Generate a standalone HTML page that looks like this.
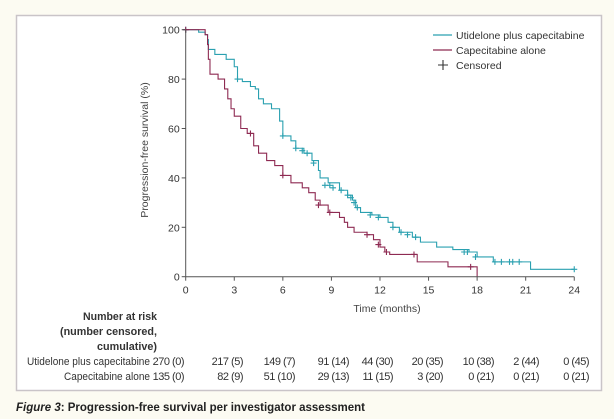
<!DOCTYPE html>
<html><head><meta charset="utf-8"><style>
html,body{margin:0;padding:0;background:#fcfbf2;width:614px;height:419px;overflow:hidden;font-family:"Liberation Sans",sans-serif;}
</style></head><body>
<svg width="614" height="419" xmlns="http://www.w3.org/2000/svg" style="position:absolute;left:0;top:0">
<rect x="16.5" y="15.5" width="585" height="375" fill="#fff" stroke="#c9c4c8" stroke-width="1.5"/>
<g id="plot" fill="none" stroke-width="1.1"></g>
<g stroke="#555" stroke-width="1" fill="none" id="axes"></g>
<g font-size="10.5" fill="#333" id="labels"></g>
<text transform="translate(148,150) rotate(-90)" font-size="10.5" fill="#444" text-anchor="middle">Progression-free survival (%)</text>
<text x="387" y="312" font-size="10.5" fill="#444" text-anchor="middle">Time (months)</text>
<line x1="433" y1="35" x2="452" y2="35" stroke="#2aa0b0" stroke-width="1.2"/>
<line x1="433" y1="50" x2="452" y2="50" stroke="#8e2a52" stroke-width="1.2"/>
<path d="M438 65h10M443 60v10" stroke="#333" stroke-width="1.1"/>
<g font-size="10.5" fill="#333">
<text x="456" y="39">Utidelone plus capecitabine</text>
<text x="456" y="54">Capecitabine alone</text>
<text x="456" y="69">Censored</text>
</g>
<g font-size="11" fill="#333">
<text x="83" y="320" font-weight="bold" textLength="74" lengthAdjust="spacingAndGlyphs">Number at risk</text>
<text x="60" y="335" font-weight="bold" textLength="97" lengthAdjust="spacingAndGlyphs">(number censored,</text>
<text x="97" y="350" font-weight="bold" textLength="60" lengthAdjust="spacingAndGlyphs">cumulative)</text>
<text x="27" y="365" textLength="123" lengthAdjust="spacingAndGlyphs">Utidelone plus capecitabine</text>
<text x="64" y="380" textLength="86" lengthAdjust="spacingAndGlyphs">Capecitabine alone</text>
</g>
<g font-size="11" fill="#333" id="risk" text-anchor="end" letter-spacing="-0.5"></g>
<text x="16" y="411" font-size="11.5" fill="#222" font-weight="bold"><tspan font-style="italic">Figure 3</tspan>: Progression-free survival per investigator assessment</text>
</svg>
<script>
var X=function(t){return 185.7+t*16.19},Y=function(p){return 276.7-p*2.47};
var ns="http://www.w3.org/2000/svg";
function el(tag,attrs,parent){var e=document.createElementNS(ns,tag);for(var k in attrs)e.setAttribute(k,attrs[k]);parent.appendChild(e);return e;}
var axes=document.getElementById('axes'),lab=document.getElementById('labels'),plot=document.getElementById('plot'),risk=document.getElementById('risk');
el('line',{x1:X(0),y1:Y(0),x2:X(24),y2:Y(0)},axes);
el('line',{x1:X(0),y1:Y(0),x2:X(0),y2:Y(100)},axes);
for(var t=0;t<=24;t+=3){el('line',{x1:X(t),y1:Y(0),x2:X(t),y2:Y(0)+4},axes);var tx=el('text',{x:X(t),y:Y(0)+17,'text-anchor':'middle'},lab);tx.textContent=t;}
for(var p=0;p<=100;p+=20){el('line',{x1:X(0)-4,y1:Y(p),x2:X(0),y2:Y(p)},axes);var ty=el('text',{x:X(0)-6,y:Y(p)+4,'text-anchor':'end'},lab);ty.textContent=p;}
var R=[184,243,295,349,393,443,494,539,589];
var r1=['270 (0)','217 (5)','149 (7)','91 (14)','44 (30)','20 (35)','10 (38)','2 (44)','0 (45)'];
var r2=['135 (0)','82 (9)','51 (10)','29 (13)','11 (15)','3 (20)','0 (21)','0 (21)','0 (21)'];
function row(r,y){r.forEach(function(a,i){var e=el('text',{x:R[i],y:y},risk);e.textContent=a;});}
row(r1,365);row(r2,380);
var teal=[[0,100],[0.8,99],[1.2,98],[1.35,96],[1.4,92],[1.8,90],[2.5,88],[3,85],[3.2,80],[3.5,79],[4,77],[4.3,76],[4.5,72],[4.8,70],[5.3,68],[5.8,63],[6,57],[6.5,55],[6.8,52],[7.3,50],[7.8,47],[8.2,43],[8.3,40],[8.8,38],[9.5,35],[10,33],[10.3,31],[10.5,28],[10.8,26],[11.5,25],[12,24],[12.5,22],[12.8,20],[13.2,18],[14,16],[14.5,14],[15.5,12],[16.5,11],[17.5,10],[18,8],[19,6],[21.3,6],[21.3,3],[24,3]];
var red=[[0,100],[1.2,98],[1.35,94],[1.4,88],[1.5,82],[2,80],[2.4,76],[2.6,72],[2.8,68],[3,65],[3.4,60],[3.8,58],[4.2,53],[4.5,50],[5,47],[5.5,45],[6,41],[6.5,38],[7.2,36],[7.6,34],[8,31],[8.3,29],[8.8,26],[9.5,24],[9.8,22],[10,20],[10.4,18],[11.2,17],[11.6,15],[12,12],[12.3,10],[12.6,9],[14.1,9],[14.3,6],[16.2,6],[16.2,4],[18,4],[18,0]];
function draw(d,col,cens){var s='M'+X(d[0][0])+' '+Y(d[0][1]);for(var i=1;i<d.length;i++){s+='H'+X(d[i][0])+'V'+Y(d[i][1]);}
el('path',{d:s,stroke:col},plot);
cens.forEach(function(c){var x=X(c[0]),y=Y(c[1]);el('path',{d:'M'+(x-3)+' '+y+'h6M'+x+' '+(y-3)+'v6',stroke:col},plot);});}
draw(teal,'#2aa0b0',[[0,100],[3.2,80],[6,57],[6.8,52],[7.2,51],[7.5,50],[7.9,46],[8.6,37],[8.9,37],[9.1,36],[9.6,35],[10,33],[10.2,32],[10.4,30],[10.6,28],[11.4,25],[11.9,24],[12.8,20],[13.3,18],[13.7,17],[14.2,16],[17.2,10],[17.4,10],[17.9,8],[19.1,6],[19.5,6],[20,6],[20.2,6],[20.6,6],[24,3]]);
draw(red,'#8e2a52',[[0,100],[4,58],[6,41],[8.2,29],[8.9,26],[11.2,17],[11.9,13],[12.4,10],[14.1,9],[17.6,4]]);
</script>
</body></html>
